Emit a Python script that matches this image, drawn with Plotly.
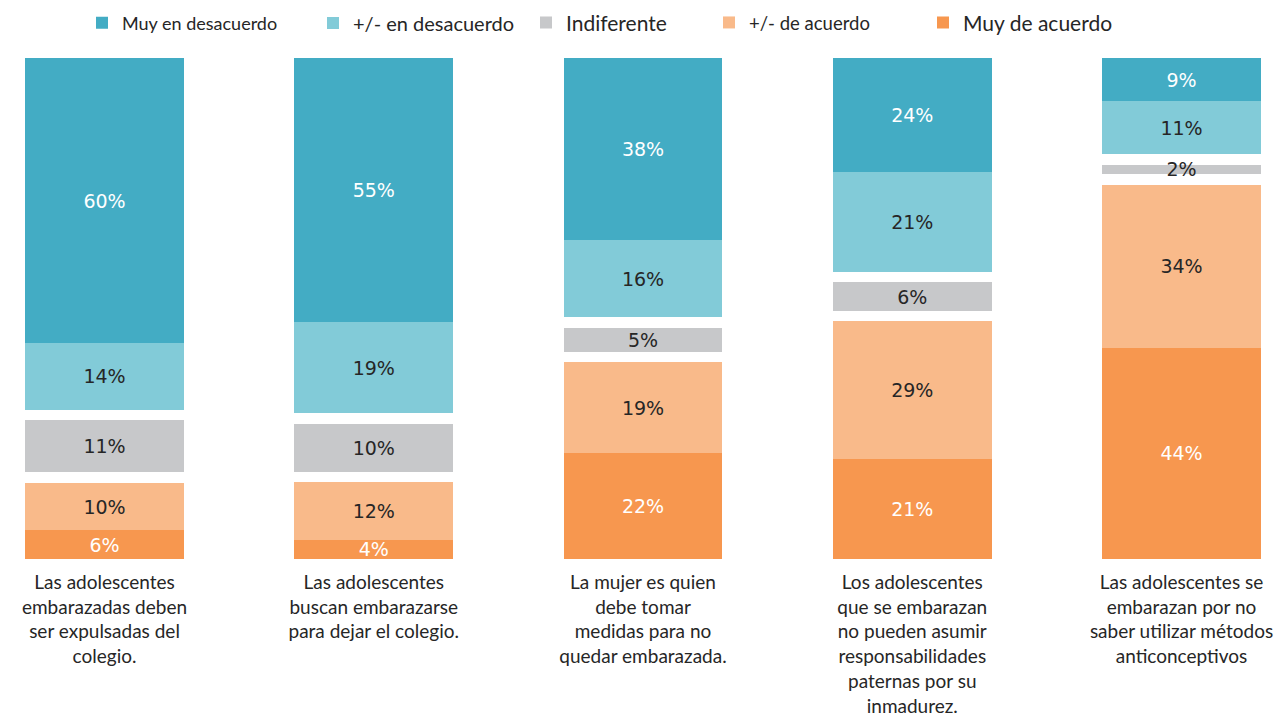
import plotly.graph_objects as go

categories = [
    "Las adolescentes<br>embarazadas deben<br>ser expulsadas del<br>colegio.",
    "Las adolescentes<br>buscan embarazarse<br>para dejar el colegio.",
    "La mujer es quien<br>debe tomar<br>medidas para no<br>quedar embarazada.",
    "Los adolescentes<br>que se embarazan<br>no pueden asumir<br>responsabilidades<br>paternas por su<br>inmadurez.",
    "Las adolescentes se<br>embarazan por no<br>saber utilizar métodos<br>anticonceptivos",
]
muy_desacuerdo = [60, 55, 38, 24, 9]
mas_menos_desacuerdo = [14, 19, 16, 21, 11]
indiferente = [11, 10, 5, 6, 2]
mas_menos_acuerdo = [10, 12, 19, 29, 34]
muy_acuerdo = [6, 4, 22, 21, 44]

GAP = 2.2  # white separation around "Indiferente"

LABEL_FONT = "DejaVu Sans"
TEXT_FONT = "Lato"
DARK = "#262626"

fig = go.Figure()

def seg(name, vals, color, txtcolor, legend, rank):
    fig.add_trace(go.Bar(
        x=categories, y=vals, name=name,
        marker=dict(color=color, line=dict(width=0)),
        text=[f"{v}%" for v in vals],
        textposition="inside", insidetextanchor="middle", textangle=0,
        textfont=dict(family=LABEL_FONT, size=19, color=txtcolor),
        legend=legend, legendrank=rank,
        hovertemplate="%{text}<extra>" + name + "</extra>",
    ))

def spacer():
    fig.add_trace(go.Bar(
        x=categories, y=[GAP] * len(categories),
        marker=dict(color="rgba(0,0,0,0)", line=dict(width=0)),
        showlegend=False, hoverinfo="skip",
    ))

seg("Muy de acuerdo", muy_acuerdo, "#F7974F", "white", "legend5", 5)
seg("+/- de acuerdo", mas_menos_acuerdo, "#F9BA8A", DARK, "legend4", 4)
spacer()
seg("Indiferente", indiferente, "#C7C8CA", DARK, "legend3", 3)
spacer()
seg("+/- en desacuerdo", mas_menos_desacuerdo, "#82CBD8", DARK, "legend2", 2)
seg("Muy en desacuerdo", muy_desacuerdo, "#43ACC4", "white", "legend", 1)

W, H = 1279, 709
def leg(px, size):
    return dict(orientation="h", x=px / W, xanchor="left", y=1.07, yanchor="middle",
                font=dict(family=TEXT_FONT, size=size, color=DARK),
                bgcolor="rgba(0,0,0,0)", borderwidth=0)

fig.update_layout(
    width=W, height=H,
    barmode="stack", barnorm="percent", bargap=0.41,
    margin=dict(l=0, r=0, t=50, b=158, autoexpand=False),
    plot_bgcolor="white", paper_bgcolor="white",
    uniformtext=dict(minsize=19, mode="show"),
    showlegend=True,
    legend=leg(74, 18),
    legend2=leg(305, 20),
    legend3=leg(518, 21),
    legend4=leg(701, 18.5),
    legend5=leg(915, 21),
    xaxis=dict(range=[-0.3584, 4.3918], showgrid=False, zeroline=False, showline=False,
               ticks="", ticklabelstandoff=10, automargin=False,
               tickfont=dict(family=TEXT_FONT, size=19, color=DARK)),
    yaxis=dict(range=[0, 100], visible=False, showgrid=False, zeroline=False,
               automargin=False),
)

fig.write_html("out.html")
